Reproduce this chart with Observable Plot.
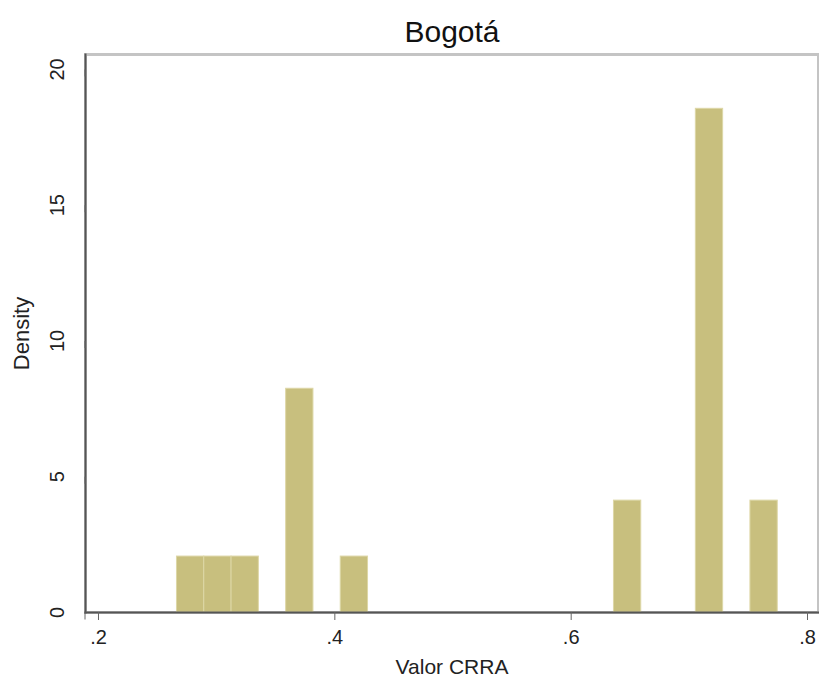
<!DOCTYPE html>
<html><head><meta charset="utf-8">
<script src="https://cdn.jsdelivr.net/npm/d3@7"></script>
<script src="https://cdn.jsdelivr.net/npm/@observablehq/plot@0.6"></script>
<style>body{margin:0;background:#fff}</style>
</head><body><div id="chart"></div>
<script>
const title = "Bogotá";
const xLabel = "Valor CRRA";
const yLabel = "Density";
const binStart = [0.2664, 0.2895, 0.3126, 0.3588, 0.4050, 0.6362, 0.7055, 0.7517];
const binWidth = 0.0231;
const density = [2.06, 2.06, 2.06, 8.24, 2.06, 4.12, 18.55, 4.12];
const xTicks = [0.2, 0.4, 0.6, 0.8];
const xTickLabels = [".2", ".4", ".6", ".8"];
const yTicks = [0, 5, 10, 15, 20];

const bins = binStart.map((s, i) => ({x1: s, x2: s + binWidth, d: density[i]}));
const font = "'Liberation Sans Narrow','Arial Narrow','Liberation Sans',Arial,sans-serif";

const chart = Plot.plot({
  width: 819, height: 680,
  marginLeft: 85, marginRight: 1, marginTop: 54, marginBottom: 68,
  style: {fontFamily: font, background: "#fff", color: "#222"},
  x: {domain: [0.189, 0.8093]},
  y: {domain: [0, 20.55]},
  marks: [
    Plot.frame({stroke: "#c4c4c4", strokeWidth: 3}),
    Plot.rect(bins, {x1: "x1", x2: "x2", y1: 0, y2: "d", fill: "#c8bf7e", stroke: "#ddd7a6", strokeWidth: 1}),
    Plot.frame({anchor: "left", stroke: "#555", strokeWidth: 2}),
    Plot.frame({anchor: "bottom", stroke: "#555", strokeWidth: 2}),
    Plot.axisX({ticks: xTicks, tickSize: 8, tickPadding: 9, tickFormat: (d, i) => xTickLabels[xTicks.indexOf(d)], fontSize: 20, label: null, stroke: "#666", color: "#222"}),
    Plot.axisY({ticks: yTicks, tickSize: 7, tickPadding: 21, rotate: -90, textAnchor: "middle", lineAnchor: "middle", fontSize: 20, label: null, stroke: "#666"}),
    Plot.text([title], {frameAnchor: "top", dy: -13, lineAnchor: "bottom", fontSize: 30, fill: "#111"}),
    Plot.text([xLabel], {frameAnchor: "bottom", dy: 61, lineAnchor: "bottom", fontSize: 21, fill: "#222"}),
    Plot.text([yLabel], {frameAnchor: "left", dx: -64, rotate: -90, textAnchor: "middle", lineAnchor: "middle", fontSize: 22, fill: "#222"})
  ]
});
document.getElementById("chart").appendChild(chart);
</script>
</body></html>
